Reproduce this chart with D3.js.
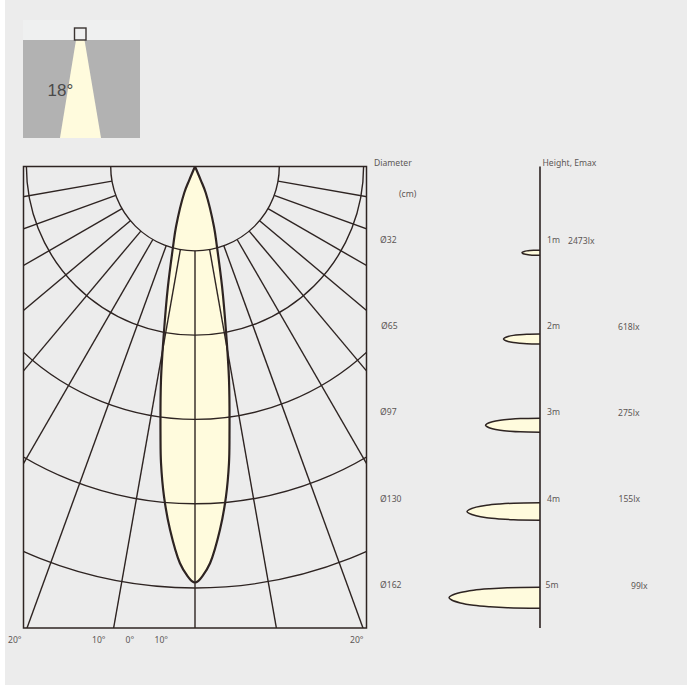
<!DOCTYPE html>
<html>
<head>
<meta charset="utf-8">
<script src="https://cdnjs.cloudflare.com/ajax/libs/d3/7.8.5/d3.min.js"></script>
<style>
html, body { margin: 0; padding: 0; background: #fff; overflow: hidden; }
svg { display: block; }
text { font-family: "Noto Sans", sans-serif; font-size: 8.6px; fill: #5c5756; }
</style>
</head>
<body>
<script>
var w = 687;
var h = 686;

// polar plot: beam outline, half of the symmetric curve
var beamAngles = [24, 22.9, 22.2, 17.5, 15.3, 12.7, 10.7, 9.05, 7.28, 6.54, 5.37, 3.93, 2.17, 1.02, 0.48, 0];
var beamRadii = [0, 0.175, 0.339, 0.749, 0.987, 1.461, 1.974, 2.565, 3.229, 3.54, 3.93, 4.32, 4.71, 4.864, 4.915, 4.935];
var gridAngles = [10, 20, 30, 40, 50, 60, 70, 80];
var gridHeights = [1, 2, 3, 4, 5];

// table on the right
var heights = [1, 2, 3, 4, 5];
var diameters = [32, 65, 97, 130, 162];
var thickness = [2.6, 5, 7, 8.7, 10.5];
var emax = [2473, 618, 275, 155, 99];

// spot profile: distance along the diameter vs relative half thickness
var spotAlong = [0, 0.36, 0.55, 0.73, 0.875, 0.97, 1];
var spotWidth = [1, 0.95, 0.86, 0.72, 0.5, 0.22, 0];

var angleTicks = ["20°", "10°", "0°", "10°", "20°"];
var beamAngle = 18;

var ink = "#2e2422";
var cream = "#fffbdd";

var svg = d3.select("body").append("svg")
  .attr("width", w)
  .attr("height", h);

svg.append("rect")
  .attr("x", 5).attr("y", 0)
  .attr("width", w - 5).attr("height", h - 1)
  .attr("fill", "#ececec");

//small picture of the beam
var inset = svg.append("g");
inset.append("rect").attr("x", 23).attr("y", 20).attr("width", 117).attr("height", 20).attr("fill", "#eff0f0");
inset.append("rect").attr("x", 23).attr("y", 40).attr("width", 117).attr("height", 98).attr("fill", "#b2b2b2");

var spread = Math.tan(beamAngle / 2 * Math.PI / 180) * 98;
inset.append("path")
  .attr("d", d3.line()([[76, 40], [84.5, 40], [80.5 + 5 + spread, 138], [80.5 - 5 - spread, 138]]) + "Z")
  .attr("fill", cream);
inset.append("rect")
  .attr("x", 74.5).attr("y", 28)
  .attr("width", 11.5).attr("height", 12)
  .attr("fill", "none")
  .attr("stroke", "#3a3331")
  .attr("stroke-width", 1.4);
inset.append("text")
  .attr("x", 47.5).attr("y", 96)
  .style("font-family", "'Liberation Sans', sans-serif")
  .style("font-size", "17px")
  .style("fill", "#4a4a4a")
  .text(beamAngle + "°");

//polar plot
var box = { left: 23.5, right: 366.5, top: 166.5, bottom: 628 };
var cx = 195;

var r = d3.scaleLinear().domain([0, 5]).range([0, 421.5]);
var rad = d3.scaleLinear().domain([0, 180]).range([0, Math.PI]);

svg.append("clipPath").attr("id", "box")
  .append("rect")
  .attr("x", box.left).attr("y", box.top)
  .attr("width", box.right - box.left).attr("height", box.bottom - box.top);

var clipped = svg.append("g").attr("clip-path", "url(#box)")
  .append("g").attr("transform", "translate(" + cx + "," + box.top + ")");

// angle is measured from straight down
var beamPoints = beamAngles.map(function(a, i) { return [Math.PI - rad(a), r(beamRadii[i])]; });
var beamMirror = beamAngles.slice().reverse().map(function(a, i) {
  return [Math.PI + rad(a), r(beamRadii[beamRadii.length - 1 - i])];
});
var beamPath = d3.lineRadial().curve(d3.curveCatmullRom.alpha(0.5))(beamPoints.concat(beamMirror.slice(1)));

clipped.append("path").attr("d", beamPath).attr("fill", cream);

var arc = d3.arc().startAngle(Math.PI / 2).endAngle(Math.PI * 3 / 2);
clipped.selectAll(".ring")
  .data(gridHeights)
  .enter().append("path")
  .attr("class", "ring")
  .attr("d", function(d) { return arc({ innerRadius: r(d), outerRadius: r(d) }); })
  .attr("fill", "none")
  .attr("stroke", ink)
  .attr("stroke-width", 1.4);

var spokes = [0].concat(gridAngles, gridAngles.map(function(a) { return -a; }));
clipped.selectAll(".spoke")
  .data(spokes)
  .enter().append("line")
  .attr("class", "spoke")
  .attr("x1", function(d) { return r(1) * Math.sin(rad(d)); })
  .attr("y1", function(d) { return r(1) * Math.cos(rad(d)); })
  .attr("x2", function(d) { return r(10) * Math.sin(rad(d)); })
  .attr("y2", function(d) { return r(10) * Math.cos(rad(d)); })
  .attr("stroke", ink)
  .attr("stroke-width", 1.4);

clipped.append("path")
  .attr("d", beamPath)
  .attr("fill", "none")
  .attr("stroke", ink)
  .attr("stroke-width", 2.2);

svg.append("rect")
  .attr("x", box.left).attr("y", box.top)
  .attr("width", box.right - box.left).attr("height", box.bottom - box.top)
  .attr("fill", "none")
  .attr("stroke", ink)
  .attr("stroke-width", 1.5);

var tickX = [8, 92, 125.5, 154.5, 350];
svg.selectAll(".angle")
  .data(angleTicks)
  .enter().append("text")
  .attr("class", "angle")
  .attr("x", function(d, i) { return tickX[i]; })
  .attr("y", 643)
  .text(function(d) { return d; });

//spots on the right
var axisX = 540;
var y = d3.scaleLinear().domain([0, 5]).range([box.top, 597.7]);
var x = d3.scaleLinear().domain([0, 162]).range([axisX, 449]);

var spotLine = d3.line().curve(d3.curveCatmullRom.alpha(0.5));
heights.forEach(function(m, i) {
  var top = spotAlong.map(function(f, j) {
    return [x(diameters[i] * f), y(m) - thickness[i] * spotWidth[j]];
  });
  var bottom = spotAlong.slice(0, -1).reverse().map(function(f, j) {
    return [x(diameters[i] * f), y(m) + thickness[i] * spotWidth[spotAlong.length - 2 - j]];
  });
  svg.append("path")
    .attr("d", spotLine(top.concat(bottom)))
    .attr("fill", cream)
    .attr("stroke", ink)
    .attr("stroke-width", 1.5);
});

svg.append("line")
  .attr("x1", axisX).attr("x2", axisX)
  .attr("y1", box.top).attr("y2", box.bottom)
  .attr("stroke", ink)
  .attr("stroke-width", 1.6);

// labels
function label(tx, ty, s) {
  svg.append("text").attr("x", tx).attr("y", ty).text(s);
}
label(374, 165.5, "Diameter");
label(399, 197, "(cm)");
label(542.5, 165.5, "Height, Emax");

var diamX = [380, 381, 380, 380, 380];
var heightX = [547, 547, 547, 547, 545.5];
var luxX = [568, 618, 618, 618.5, 631];
heights.forEach(function(m, i) {
  var base = y(m) - 9.8;
  label(diamX[i], base, "Ø" + diameters[i]);
  label(heightX[i], base, m + "m");
  label(luxX[i], base + 0.6, emax[i] + "lx");
});
</script>
</body>
</html>
